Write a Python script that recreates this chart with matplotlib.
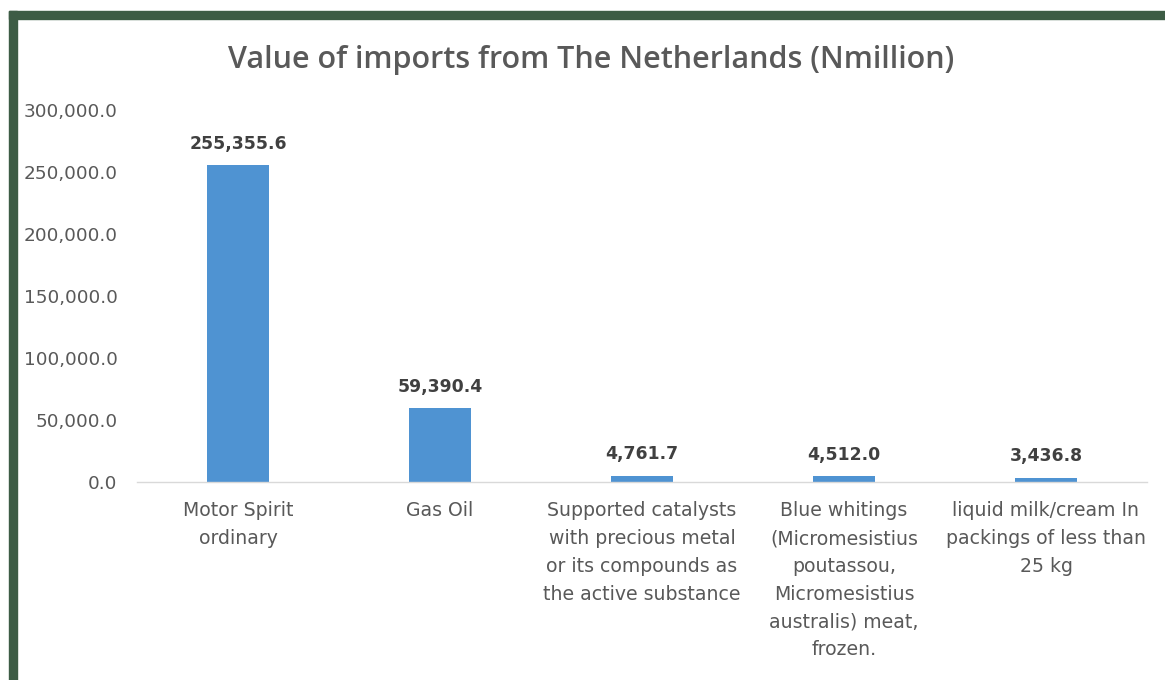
import matplotlib
matplotlib.use("Agg")
import matplotlib.pyplot as plt
from matplotlib.patches import Rectangle
from matplotlib.ticker import FuncFormatter, MultipleLocator

categories = [
    "Motor Spirit\nordinary",
    "Gas Oil",
    "Supported catalysts\nwith precious metal\nor its compounds as\nthe active substance",
    "Blue whitings\n(Micromesistius\npoutassou,\nMicromesistius\naustralis) meat,\nfrozen.",
    "liquid milk/cream In\npackings of less than\n25 kg",
]
values = [255355.6, 59390.4, 4761.7, 4512.0, 3436.8]
title = "Value of imports from The Netherlands (Nmillion)"

W, H = 1165, 680
fig = plt.figure(figsize=(W / 100, H / 100), dpi=100)
fig.patch.set_facecolor("white")

FONT = "DejaVu Sans"
TXT = "#595959"
BORDER = "#3d5c45"

# border strips (top and left)
fig.patches.append(Rectangle((9 / W, 1 - 19 / H), 1 - 9 / W, 8 / H,
                             transform=fig.transFigure, color=BORDER, zorder=0))
fig.patches.append(Rectangle((9 / W, 0), 8 / W, 1 - 11 / H,
                             transform=fig.transFigure, color=BORDER, zorder=0))

ax = fig.add_axes([137 / W, 1 - 482 / H, 1010 / W, 372 / H])
x = list(range(len(categories)))
bars = ax.bar(x, values, width=0.31, color="#4f93d2", zorder=2)

ax.set_xlim(-0.5, len(categories) - 0.5)
ax.set_ylim(0, 300000)
ax.yaxis.set_major_locator(MultipleLocator(50000))
ax.yaxis.set_major_formatter(FuncFormatter(lambda v, p: f"{v:,.1f}"))

for s in ["top", "right", "left"]:
    ax.spines[s].set_visible(False)
ax.spines["bottom"].set_color("#d9d9d9")
ax.spines["bottom"].set_linewidth(1.0)
ax.tick_params(axis="both", length=0)
ax.tick_params(axis="y", pad=14, labelsize=13.3, labelcolor=TXT)
ax.set_xticks(x)
ax.set_xticklabels(categories, fontsize=13.6, color=TXT, linespacing=1.58,
                   family=FONT)
ax.tick_params(axis="x", pad=14)
for lab in ax.get_yticklabels():
    lab.set_family(FONT)

for xi, v in zip(x, values):
    ax.annotate(f"{v:,.1f}", (xi, v), xytext=(0, 12), textcoords="offset points",
                ha="center", va="baseline", fontsize=12.4, fontweight="bold",
                color="#404040", family=FONT)

fig.text(591 / W, 1 - 60 / H, title, ha="center", va="center",
         fontsize=22, color=TXT, family="Open Sans", fontweight="semibold")

fig.savefig("out.png", dpi=100, facecolor="white")
